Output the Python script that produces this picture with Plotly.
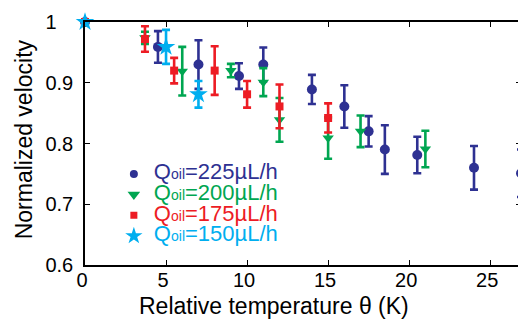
import plotly.graph_objects as go

# ---- data ----
theta_225 = [0, 4.5, 7.0, 9.5, 11.0, 14.0, 16.0, 17.5, 18.5, 20.5, 24.0, 26.9]
v_225 = [1.0, 0.959, 0.930, 0.911, 0.930, 0.889, 0.861, 0.820, 0.790, 0.781, 0.760, 0.751]
err_225 = [0, 0.026, 0.040, 0.021, 0.028, 0.024, 0.035, 0.025, 0.040, 0.030, 0.036, 0.039]

theta_200 = [0, 3.7, 6.0, 9.0, 11.0, 12.0, 15.0, 17.0, 21.0]
v_200 = [1.0, 0.974, 0.919, 0.920, 0.901, 0.839, 0.809, 0.820, 0.791]
err_200 = [0, 0.010, 0.040, 0.011, 0.023, 0.036, 0.034, 0.026, 0.030]

theta_175 = [0, 3.7, 5.5, 8.0, 10.0, 12.0, 15.0]
v_175 = [1.0, 0.972, 0.920, 0.920, 0.881, 0.861, 0.842]
err_175 = [0, 0.021, 0.021, 0.040, 0.022, 0.036, 0.024]

theta_150 = [0, 5.0, 7.0]
v_150 = [1.0, 0.959, 0.881]
err_150 = [0, 0.028, 0.022]

series_labels = ["225", "200", "175", "150"]
x_ticks = [0, 5, 10, 15, 20, 25]
y_ticks = [0.6, 0.7, 0.8, 0.9, 1.0]
y_tick_text = ["0.6", "0.7", "0.8", "0.9", "1\u00a0\u00a0\u00a0"]

colors = ["#2E3192", "#00A651", "#ED1C24", "#00AEEF"]
symbols = ["circle", "triangle-down", "square", "star"]
sizes = [10, 10, 8, 14]
legend_sizes = [8, 11, 7, 13]

FONT = "Arial, Liberation Sans, sans-serif"

# page body adds an 8px offset; plot area placed at x 85..523, y 19..265 of the window
W, H = 518, 315
PL, PT, PR, PB = 85, 19, 523, 265
PW, PH = PR - PL, PB - PT

fig = go.Figure()
datasets = [(theta_225, v_225, err_225), (theta_200, v_200, err_200),
            (theta_175, v_175, err_175), (theta_150, v_150, err_150)]
for (xs, ys, es), c, s, sz in zip(datasets, colors, symbols, sizes):
    fig.add_trace(go.Scatter(
        x=xs, y=ys, mode="markers",
        marker=dict(symbol=s, size=sz, color=c, line=dict(width=0)),
        error_y=dict(type="data", array=es, visible=True, color=c, thickness=2.6, width=4),
        showlegend=False, cliponaxis=False))

for lab, c, s, sz in zip(series_labels, colors, symbols, legend_sizes):
    fig.add_trace(go.Scatter(
        x=[None], y=[None], mode="markers",
        marker=dict(symbol=s, size=sz, color=c, line=dict(width=0)),
        name=(f"<span style='font-size:22px;fill:{c}'>Q</span>"
              f"<span style='font-size:14px;fill:{c}'>oil</span>"
              f"<span style='font-size:22px;fill:{c}'>={lab}µL/h</span>")))

fig.update_layout(
    width=W, height=H,
    margin=dict(l=PL - 8, r=W - (PR - 8), t=PT - 8, b=H - (PB - 8)),
    paper_bgcolor="white", plot_bgcolor="white",
    font=dict(family=FONT, color="black", size=20),
    legend=dict(x=(114 - PL) / PW, y=0.438, xanchor="left", yanchor="top",
                bgcolor="rgba(0,0,0,0)", font=dict(size=13.6, family=FONT),
                tracegroupgap=0, itemwidth=30),
    showlegend=True,
)

fig.update_xaxes(range=[0, 26.9], tickvals=x_ticks, ticks="inside", ticklen=5,
                 tickwidth=1, tickcolor="black", showline=True, linecolor="black",
                 linewidth=1.5, mirror="ticks", showgrid=False, zeroline=False,
                 tickfont=dict(size=20, family=FONT), ticklabelstandoff=-4,
                 ticklabelshift=-3)
fig.update_yaxes(range=[0.6, 1.0], tickvals=y_ticks, ticktext=y_tick_text,
                 ticks="inside", ticklen=5, tickwidth=1, tickcolor="black",
                 showline=True, linecolor="black", linewidth=1.5, mirror="ticks",
                 showgrid=False, zeroline=False,
                 tickfont=dict(size=20, family=FONT), ticklabelstandoff=6)

fig.add_annotation(text="Relative temperature θ (K)", xref="paper", yref="paper",
                   x=(275 - PL) / PW, y=-(307 - PB) / PH, xanchor="center",
                   yanchor="middle", showarrow=False, font=dict(size=23, family=FONT))
fig.add_annotation(text="Normalized velocity", xref="paper", yref="paper",
                   x=-(PL - 24) / PW, y=1 - (137.5 - PT) / PH, xanchor="center",
                   yanchor="middle", textangle=-90, showarrow=False,
                   font=dict(size=23, family=FONT))

fig.write_html("out.html")
